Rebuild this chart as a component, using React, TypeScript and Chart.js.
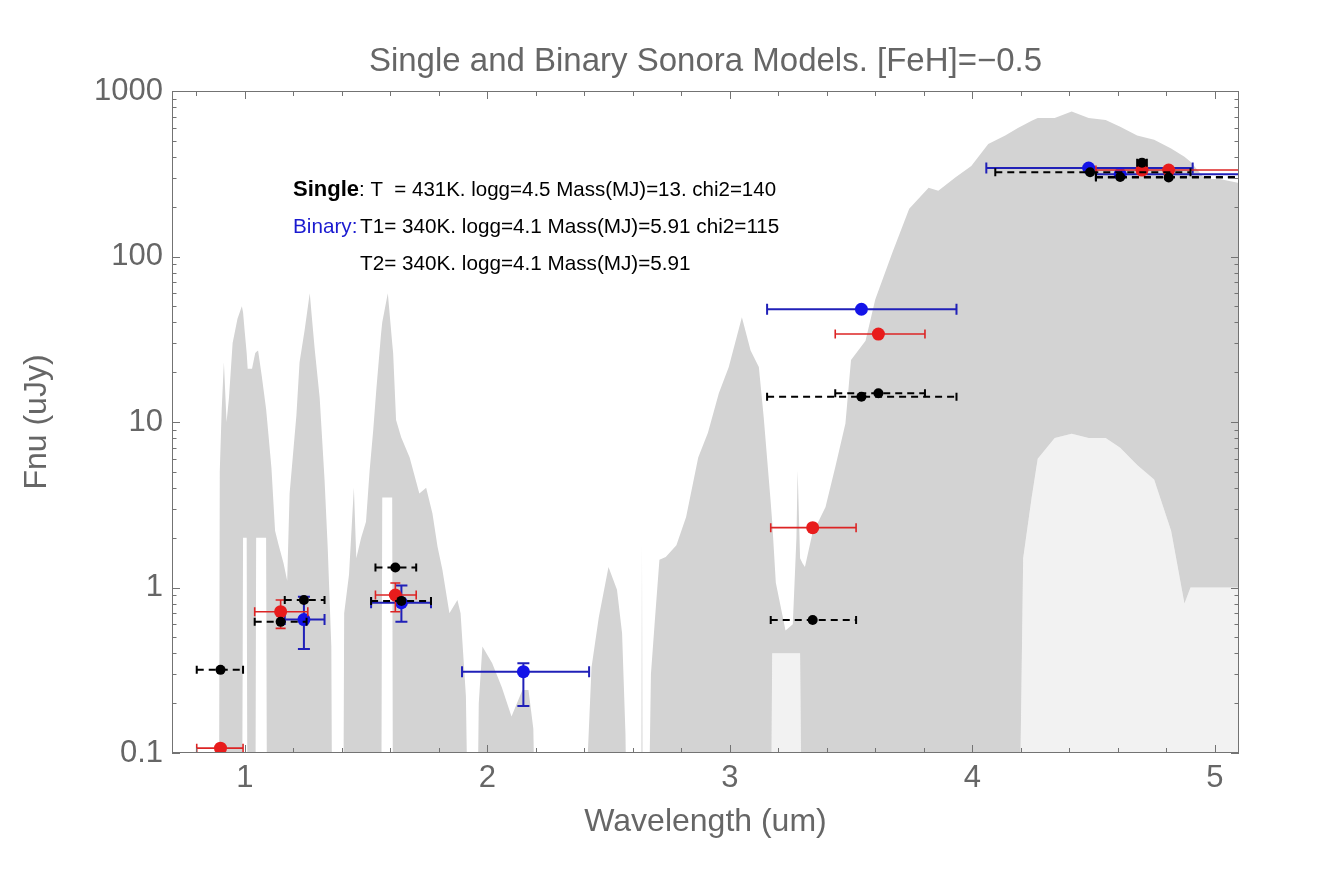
import React, { useEffect, useRef } from "react";
import { Chart, registerables } from "chart.js";

Chart.register(...registerables);

const FONT = '"Liberation Sans", Arial, Helvetica, sans-serif';
const TEXT_GRAY = "#666666";
const AXIS_GRAY = "#737373";

const titleText = "Single and Binary Sonora Models. [FeH]=\u22120.5";
const xAxisTitle = "Wavelength (um)";
const yAxisTitle = "Fnu (uJy)";

const xTickValues = [1, 2, 3, 4, 5];
const xMinorTickValues = [0.8, 1.2, 1.4, 1.6, 1.8, 2.2, 2.4, 2.6, 2.8, 3.2, 3.4, 3.6, 3.8, 4.2, 4.4, 4.6, 4.8];
const yTickValues = [0.1, 1, 10, 100, 1000];
const yTickLabels = ["0.1", "1", "10", "100", "1000"];
const yMinorMultipliers = [2, 3, 4, 5, 6, 7, 8, 9];

// Model spectrum (Sonora): wavelength (um), top of the gray band,
// lower edge of the dense gray, lower edge of the sparse lines (0.01 = below the axis)
const specWave = [
  0.70, 0.893, 0.897, 0.905, 0.914, 0.925, 0.935, 0.95, 0.97, 0.988,
  0.993, 1.0, 1.008, 1.012, 1.03, 1.043, 1.047, 1.055, 1.07, 1.088,
  1.093, 1.11, 1.125, 1.14, 1.16, 1.175, 1.185, 1.213, 1.226, 1.247,
  1.268, 1.288, 1.309, 1.329, 1.342, 1.357, 1.362, 1.405, 1.41, 1.43,
  1.45, 1.46, 1.48, 1.5, 1.515, 1.53, 1.543, 1.562, 1.567, 1.59,
  1.608, 1.612, 1.624, 1.645, 1.68, 1.72, 1.748, 1.774, 1.795, 1.815,
  1.844, 1.877, 1.89, 1.912, 1.926, 1.955, 1.965, 1.98, 2.02, 2.06,
  2.1, 2.145, 2.17, 2.19, 2.205, 2.4, 2.406, 2.43, 2.46, 2.5,
  2.535, 2.556, 2.57, 2.58, 2.634, 2.638, 2.642, 2.66, 2.675, 2.69,
  2.71, 2.736, 2.78, 2.82, 2.87, 2.91, 2.955, 2.996, 3.05, 3.086,
  3.12, 3.14, 3.168, 3.175, 3.19, 3.23, 3.26, 3.275, 3.28, 3.29,
  3.3, 3.31, 3.34, 3.395, 3.436, 3.477, 3.5, 3.56, 3.6, 3.67,
  3.74, 3.82, 3.86, 3.93, 3.996, 4.066, 4.136, 4.19, 4.21, 4.245,
  4.27, 4.34, 4.41, 4.48, 4.55, 4.61, 4.68, 4.75, 4.82, 4.875,
  4.9, 4.96, 5.02, 5.1,
];
const specUpper = [
  0.01, 0.01, 5, 12, 23, 10, 14, 30, 42, 50,
  46, 35, 26, 21, 21, 26, 26.5, 27, 19, 12,
  10, 5.3, 2.2, 1.8, 1.4, 1.1, 3.7, 11, 23, 36,
  60, 28, 14, 4.5, 1.76, 0.44, 0.01, 0.01, 0.7, 1.2,
  4.0, 1.5, 2.0, 2.5, 5.1, 9, 16, 34, 40, 60,
  30, 26, 10.3, 8.1, 6.1, 3.7, 4.0, 2.8, 1.76, 1.28,
  0.7, 0.84, 0.7, 0.22, 0.01, 0.01, 0.2, 0.44, 0.35, 0.25,
  0.166, 0.24, 0.24, 0.14, 0.01, 0.01, 0.05, 0.33, 0.66, 1.33,
  0.97, 0.53, 0.13, 0.01, 0.01, 1.85, 0.01, 0.01, 0.3, 0.6,
  1.47, 1.53, 1.8, 2.67, 6.1, 8.6, 14.9, 21.5, 43, 27,
  21.5, 10.7, 3.4, 2.5, 1.07, 0.55, 0.6, 2, 5.1, 1.5,
  1.4, 1.33, 2.1, 3.07, 5.4, 9.8, 23.7, 31, 55, 105,
  194, 260, 250, 300, 352, 478, 539, 600, 620, 660,
  687, 687, 751, 687, 667, 608, 539, 507, 450, 400,
  374, 294, 294, 278,
];
const specLower = [
  0.01, 0.01, 0.01, 0.01, 0.01, 0.01, 0.01, 0.01, 0.01, 0.01,
  2, 2, 2, 0.01, 0.01, 0.01, 2, 2, 2, 2,
  0.01, 0.01, 0.01, 0.01, 0.01, 0.01, 0.01, 0.01, 0.01, 0.01,
  0.01, 0.01, 0.01, 0.01, 0.01, 0.01, 0.01, 0.01, 0.01, 0.01,
  0.01, 0.01, 0.01, 0.01, 0.01, 0.01, 0.01, 0.01, 3.5, 3.5,
  3.5, 0.01, 0.01, 0.01, 0.01, 0.01, 0.01, 0.01, 0.01, 0.01,
  0.01, 0.01, 0.01, 0.01, 0.01, 0.01, 0.01, 0.01, 0.01, 0.01,
  0.01, 0.01, 0.01, 0.01, 0.01, 0.01, 0.01, 0.01, 0.01, 0.01,
  0.01, 0.01, 0.01, 0.01, 0.01, 0.01, 0.01, 0.01, 0.01, 0.01,
  0.01, 0.01, 0.01, 0.01, 0.01, 0.01, 0.01, 0.01, 0.01, 0.01,
  0.01, 0.01, 0.01, 0.4, 0.4, 0.4, 0.4, 0.4, 0.4, 0.4,
  0.01, 0.01, 0.01, 0.01, 0.01, 0.01, 0.01, 0.01, 0.01, 0.01,
  0.01, 0.01, 0.01, 0.01, 0.01, 0.01, 0.01, 0.01, 1.5, 3.5,
  6, 8, 8.5, 8, 8, 7, 5.5, 4.5, 2.2, 0.8,
  1.0, 1.0, 1.0, 1.0,
];
const specFloor = [
  0.01, 0.01, 0.01, 0.01, 0.01, 0.01, 0.01, 0.01, 0.01, 0.01,
  2, 2, 2, 0.01, 0.01, 0.01, 2, 2, 2, 2,
  0.01, 0.01, 0.01, 0.01, 0.01, 0.01, 0.01, 0.01, 0.01, 0.01,
  0.01, 0.01, 0.01, 0.01, 0.01, 0.01, 0.01, 0.01, 0.01, 0.01,
  0.01, 0.01, 0.01, 0.01, 0.01, 0.01, 0.01, 0.01, 3.5, 3.5,
  3.5, 0.01, 0.01, 0.01, 0.01, 0.01, 0.01, 0.01, 0.01, 0.01,
  0.01, 0.01, 0.01, 0.01, 0.01, 0.01, 0.01, 0.01, 0.01, 0.01,
  0.01, 0.01, 0.01, 0.01, 0.01, 0.01, 0.01, 0.01, 0.01, 0.01,
  0.01, 0.01, 0.01, 0.01, 0.01, 0.01, 0.01, 0.01, 0.01, 0.01,
  0.01, 0.01, 0.01, 0.01, 0.01, 0.01, 0.01, 0.01, 0.01, 0.01,
  0.01, 0.01, 0.01, 0.01, 0.01, 0.01, 0.01, 0.01, 0.01, 0.01,
  0.01, 0.01, 0.01, 0.01, 0.01, 0.01, 0.01, 0.01, 0.01, 0.01,
  0.01, 0.01, 0.01, 0.01, 0.01, 0.01, 0.01, 0.01, 0.01, 0.01,
  0.01, 0.01, 0.01, 0.01, 0.01, 0.01, 0.01, 0.01, 0.01, 0.01,
  0.01, 0.01, 0.01, 0.01,
];

// Single-object model photometry (black, dashed bars)
const singleWave = [0.9, 1.148, 1.244, 1.621, 1.646, 3.342, 3.543, 3.613, 4.486, 4.61, 4.7, 4.81];
const singleFlux = [0.318, 0.62, 0.84, 1.32, 0.83, 0.637, 14.2, 14.9, 323, 302, 369, 300];
const singleXLo = [0.802, 1.041, 1.165, 1.539, 1.521, 3.169, 3.154, 3.435, 4.095, 4.51, 4.68, 4.51];
const singleXHi = [0.993, 1.255, 1.329, 1.707, 1.768, 3.521, 3.935, 3.805, 4.9, 5.25, 4.72, 5.25];

// Observed photometry (red)
const obsWave = [0.9, 1.148, 1.621, 3.342, 3.613, 4.7, 4.81];
const obsFlux = [0.107, 0.714, 0.9, 2.3, 34, 333, 333];
const obsXLo = [0.802, 1.041, 1.539, 3.169, 3.435, 4.68, 4.51];
const obsXHi = [0.993, 1.26, 1.707, 3.521, 3.805, 4.72, 5.25];
const obsYLo = [0.107, 0.566, 0.714, 2.3, 34, 333, 333];
const obsYHi = [0.107, 0.84, 1.064, 2.3, 34, 333, 333];

// Binary model photometry (blue)
const binWave = [1.244, 1.646, 2.149, 3.543, 4.48, 4.61];
const binFlux = [0.64, 0.81, 0.31, 48, 342, 314];
const binXLo = [1.165, 1.521, 1.896, 3.154, 4.058, 4.51];
const binXHi = [1.329, 1.768, 2.42, 3.935, 4.909, 5.25];
const binYLo = [0.425, 0.62, 0.192, 48, 342, 314];
const binYHi = [0.88, 1.03, 0.348, 48, 342, 314];

const annotSingleLabel = "Single";
const annotSingleText = ": T  = 431K. logg=4.5 Mass(MJ)=13. chi2=140";
const annotBinaryLabel = "Binary:";
const annotBinaryText = "T1= 340K. logg=4.1 Mass(MJ)=5.91 chi2=115";
const annotBinaryText2 = "T2= 340K. logg=4.1 Mass(MJ)=5.91";

const errorBarPlugin = {
  id: "errorBars",
  beforeDatasetDraw(chart: any, args: any) {
    const ds = chart.data.datasets[args.index];
    const eb = ds && ds.errorBars;
    if (!eb) return;
    const { ctx, chartArea: a } = chart;
    const xs = chart.scales.x;
    const ys = chart.scales.y;
    ctx.save();
    ctx.beginPath();
    ctx.rect(a.left, a.top, a.right - a.left, a.bottom - a.top);
    ctx.clip();
    ctx.strokeStyle = eb.color;
    ctx.lineWidth = eb.width;
    for (let i = 0; i < eb.wave.length; i++) {
      const px = xs.getPixelForValue(eb.wave[i]);
      const py = ys.getPixelForValue(eb.flux[i]);
      const x0 = xs.getPixelForValue(eb.xlo[i]);
      const x1 = xs.getPixelForValue(eb.xhi[i]);
      ctx.setLineDash(eb.dash || []);
      ctx.beginPath();
      ctx.moveTo(x0, py);
      ctx.lineTo(x1, py);
      ctx.stroke();
      ctx.setLineDash([]);
      ctx.beginPath();
      ctx.moveTo(x0, py - eb.cap);
      ctx.lineTo(x0, py + eb.cap);
      ctx.moveTo(x1, py - eb.cap);
      ctx.lineTo(x1, py + eb.cap);
      ctx.stroke();
      if (eb.ylo && eb.yhi && eb.ylo[i] !== eb.yhi[i]) {
        const y0 = ys.getPixelForValue(eb.ylo[i]);
        const y1 = ys.getPixelForValue(eb.yhi[i]);
        ctx.beginPath();
        ctx.moveTo(px, y0);
        ctx.lineTo(px, y1);
        ctx.moveTo(px - eb.ycap, y0);
        ctx.lineTo(px + eb.ycap, y0);
        ctx.moveTo(px - eb.ycap, y1);
        ctx.lineTo(px + eb.ycap, y1);
        ctx.stroke();
      }
    }
    ctx.restore();
  },
};

const framePlugin = {
  id: "frameTicks",
  afterDatasetsDraw(chart: any) {
    const { ctx, chartArea: a } = chart;
    const xs = chart.scales.x;
    const ys = chart.scales.y;
    ctx.save();
    ctx.strokeStyle = AXIS_GRAY;
    ctx.lineWidth = 1;
    ctx.strokeRect(a.left + 0.5, a.top + 0.5, a.right - a.left - 1, a.bottom - a.top - 1);
    ctx.beginPath();
    const xTick = (v: number, len: number) => {
      const p = Math.round(xs.getPixelForValue(v)) + 0.5;
      ctx.moveTo(p, a.bottom);
      ctx.lineTo(p, a.bottom - len);
      ctx.moveTo(p, a.top);
      ctx.lineTo(p, a.top + len);
    };
    const yTick = (v: number, len: number) => {
      const p = Math.round(ys.getPixelForValue(v)) + 0.5;
      ctx.moveTo(a.left, p);
      ctx.lineTo(a.left + len, p);
      ctx.moveTo(a.right, p);
      ctx.lineTo(a.right - len, p);
    };
    xTickValues.forEach((v) => xTick(v, 8));
    xMinorTickValues.forEach((v) => xTick(v, 5));
    yTickValues.forEach((v) => yTick(v, 8));
    yTickValues.slice(0, -1).forEach((d) => yMinorMultipliers.forEach((m) => yTick(d * m, 4.5)));
    ctx.stroke();
    ctx.restore();
  },
};

const textPlugin = {
  id: "texts",
  afterDraw(chart: any) {
    const { ctx, chartArea: a } = chart;
    ctx.save();
    ctx.fillStyle = TEXT_GRAY;
    ctx.textBaseline = "middle";
    ctx.textAlign = "center";
    ctx.font = `33px ${FONT}`;
    ctx.fillText(titleText, (a.left + a.right) / 2, 62);
    ctx.font = `32px ${FONT}`;
    ctx.fillText(xAxisTitle, (a.left + a.right) / 2, 822);
    ctx.save();
    ctx.translate(37, (a.top + a.bottom) / 2);
    ctx.rotate(-Math.PI / 2);
    ctx.fillText(yAxisTitle, 0, 0);
    ctx.restore();

    ctx.textAlign = "left";
    ctx.fillStyle = "#000000";
    ctx.font = `bold 22px ${FONT}`;
    ctx.fillText(annotSingleLabel, 293, 190);
    const w = ctx.measureText(annotSingleLabel).width;
    ctx.font = `20.5px ${FONT}`;
    ctx.fillText(annotSingleText, 293 + w, 190);
    ctx.font = `20.7px ${FONT}`;
    ctx.fillStyle = "#1a1ad0";
    ctx.fillText(annotBinaryLabel, 293, 227);
    ctx.fillStyle = "#000000";
    ctx.fillText(annotBinaryText, 360, 227);
    ctx.fillText(annotBinaryText2, 360, 264);
    ctx.restore();
  },
};

export default function App() {
  const canvasRef = useRef<HTMLCanvasElement | null>(null);

  useEffect(() => {
    const canvas = canvasRef.current;
    if (!canvas) return;
    const pts = (ys: number[]) => specWave.map((x, i) => ({ x, y: ys[i] }));
    const scatter = (w: number[], f: number[]) => w.map((x, i) => ({ x, y: f[i] }));

    const chart = new Chart(canvas, {
      type: "line",
      data: {
        datasets: [
          {
            type: "line",
            label: "spectrum dense lower",
            data: pts(specLower),
            borderWidth: 0,
            pointRadius: 0,
            tension: 0,
            fill: 2,
            backgroundColor: "rgba(211,211,211,0.3)",
            order: 12,
          },
          {
            type: "line",
            label: "spectrum",
            data: pts(specUpper),
            borderWidth: 0,
            pointRadius: 0,
            tension: 0,
            fill: 0,
            backgroundColor: "#d3d3d3",
            order: 11,
          },
          {
            type: "line",
            label: "spectrum floor",
            data: pts(specFloor),
            borderWidth: 0,
            pointRadius: 0,
            tension: 0,
            fill: false,
            order: 13,
          },
          {
            type: "scatter",
            label: "Binary",
            data: scatter(binWave, binFlux),
            pointRadius: 6.5,
            pointBorderWidth: 0,
            backgroundColor: "#1414e8",
            borderColor: "#1414e8",
            order: 3,
            errorBars: {
              wave: binWave, flux: binFlux, xlo: binXLo, xhi: binXHi, ylo: binYLo, yhi: binYHi,
              color: "#2020b8", width: 2, cap: 5.5, ycap: 6,
            },
          } as any,
          {
            type: "scatter",
            label: "Observed",
            data: scatter(obsWave, obsFlux),
            pointRadius: 6.5,
            pointBorderWidth: 0,
            backgroundColor: "#e81c1c",
            borderColor: "#e81c1c",
            order: 2,
            errorBars: {
              wave: obsWave, flux: obsFlux, xlo: obsXLo, xhi: obsXHi, ylo: obsYLo, yhi: obsYHi,
              color: "#dc2424", width: 1.6, cap: 4.5, ycap: 5,
            },
          } as any,
          {
            type: "scatter",
            label: "Single",
            data: scatter(singleWave, singleFlux),
            pointRadius: 5,
            pointBorderWidth: 0,
            backgroundColor: "#000000",
            borderColor: "#000000",
            order: 1,
            errorBars: {
              wave: singleWave, flux: singleFlux, xlo: singleXLo, xhi: singleXHi,
              color: "#000000", width: 2, cap: 4, ycap: 4, dash: [7, 5],
            },
          } as any,
        ],
      },
      options: {
        responsive: false,
        devicePixelRatio: 1,
        animation: false,
        events: [],
        layout: { padding: { left: 0, right: 95, top: 91, bottom: 0 } },
        plugins: {
          legend: { display: false },
          tooltip: { enabled: false },
          title: { display: false },
        },
        scales: {
          x: {
            type: "linear",
            min: 0.7,
            max: 5.1,
            grid: { display: false, drawTicks: false },
            border: { display: false },
            afterBuildTicks: (scale: any) => {
              scale.ticks = xTickValues.map((v) => ({ value: v }));
            },
            afterFit: (scale: any) => {
              scale.height = 134;
            },
            ticks: {
              autoSkip: false,
              maxRotation: 0,
              padding: 7,
              color: TEXT_GRAY,
              font: { family: FONT, size: 31 },
              callback: (v: any) => String(v),
            },
          },
          y: {
            type: "logarithmic",
            min: 0.1,
            max: 1000,
            grid: { display: false, drawTicks: false },
            border: { display: false },
            afterBuildTicks: (scale: any) => {
              scale.ticks = yTickValues.map((v) => ({ value: v }));
            },
            afterFit: (scale: any) => {
              scale.width = 172;
            },
            ticks: {
              autoSkip: false,
              padding: 9,
              color: TEXT_GRAY,
              font: { family: FONT, size: 31 },
              callback: (v: any) => {
                const i = yTickValues.findIndex((t) => Math.abs(t - Number(v)) < 1e-9 * Math.max(1, t));
                return i >= 0 ? yTickLabels[i] : "";
              },
            },
          },
        },
      },
      plugins: [errorBarPlugin, framePlugin, textPlugin],
    } as any);

    return () => chart.destroy();
  }, []);

  return (
    <canvas
      ref={canvasRef}
      width={1334}
      height={887}
      style={{ position: "absolute", left: 0, top: 0, display: "block", background: "#ffffff" }}
    />
  );
}
